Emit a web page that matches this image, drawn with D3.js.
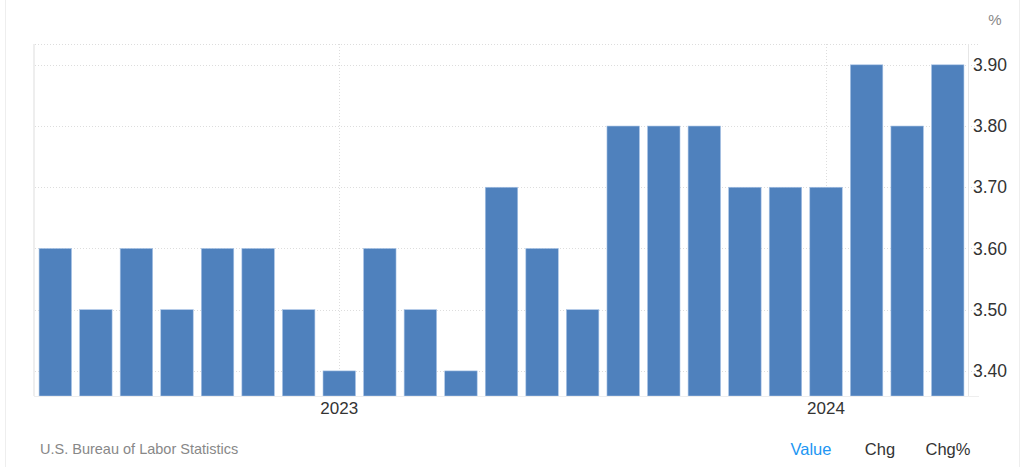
<!DOCTYPE html>
<html>
<head>
<meta charset="utf-8">
<script src="https://cdn.jsdelivr.net/npm/d3@7"></script>
<style>
  body { margin: 0; background: #fff; font-family: "Liberation Sans", Arial, sans-serif; }
</style>
</head>
<body>
<svg id="chart" width="1022" height="467"></svg>
<script>
// monthly values, Jun 2022 .. Apr 2024
var months = ["2022-06", "2022-07", "2022-08", "2022-09", "2022-10", "2022-11", "2022-12",
    "2023-01", "2023-02", "2023-03", "2023-04", "2023-05", "2023-06", "2023-07", "2023-08",
    "2023-09", "2023-10", "2023-11", "2023-12", "2024-01", "2024-02", "2024-03", "2024-04"];
var values = [3.6, 3.5, 3.6, 3.5, 3.6, 3.6, 3.5, 3.4, 3.6, 3.5, 3.4, 3.7, 3.6, 3.5, 3.8,
    3.8, 3.8, 3.7, 3.7, 3.7, 3.9, 3.8, 3.9];
var yTicks = [3.4, 3.5, 3.6, 3.7, 3.8, 3.9];
var yearTicks = ["2023-01", "2024-01"];
var yearLabels = ["2023", "2024"];
var menu = ["Value", "Chg", "Chg%"];

var svg = d3.select("#chart");
var plotLeft = 35, plotRight = 968, plotTop = 44, plotBottom = 396;

// card borders
svg.append("line").attr("x1", 5.5).attr("x2", 5.5).attr("y1", 0).attr("y2", 467)
    .attr("stroke", "#eeeeee").attr("stroke-width", 1);
svg.append("line").attr("x1", 1019.5).attr("x2", 1019.5).attr("y1", 0).attr("y2", 467)
    .attr("stroke", "#eeeeee").attr("stroke-width", 1);

var x = d3.scaleBand().domain(months).range([plotLeft, plotRight]).paddingInner(0.2).paddingOuter(0.1);
var y = d3.scaleLinear().domain([3.359, 3.934]).range([plotBottom, plotTop]);

// horizontal grid
svg.append("g").selectAll("line").data(yTicks.concat([3.934])).enter().append("line")
    .attr("x1", plotLeft).attr("x2", 979)
    .attr("y1", function (d) { return Math.round(y(d)) + 0.5; })
    .attr("y2", function (d) { return Math.round(y(d)) + 0.5; })
    .attr("stroke", "#dddddd").attr("stroke-dasharray", "1,2");

// vertical grid at year starts
svg.append("g").selectAll("line").data(yearTicks).enter().append("line")
    .attr("x1", function (d) { return Math.round(x(d) + x.bandwidth() / 2) + 0.5; })
    .attr("x2", function (d) { return Math.round(x(d) + x.bandwidth() / 2) + 0.5; })
    .attr("y1", plotTop).attr("y2", plotBottom)
    .attr("stroke", "#dddddd").attr("stroke-dasharray", "1,2");

// bars
svg.append("g").selectAll("rect").data(values).enter().append("rect")
    .attr("x", function (d, i) { return x(months[i]); })
    .attr("width", x.bandwidth())
    .attr("y", function (d) { return y(d); })
    .attr("height", function (d) { return plotBottom - y(d); })
    .attr("fill", "#4f81bd")
    .attr("stroke", "#a9c4e6").attr("stroke-width", 0.6);

// axis lines
svg.append("line").attr("x1", 34).attr("x2", 34).attr("y1", plotTop).attr("y2", plotBottom)
    .attr("stroke", "#eeeeee").attr("stroke-width", 2);
svg.append("line").attr("x1", 968.5).attr("x2", 968.5).attr("y1", plotTop).attr("y2", plotBottom)
    .attr("stroke", "#e6e6e6").attr("stroke-width", 1);
svg.append("line").attr("x1", 34).attr("x2", 979).attr("y1", plotBottom + 0.5).attr("y2", plotBottom + 0.5)
    .attr("stroke", "#eeeeee").attr("stroke-width", 1);

// y axis labels
var yAxis = d3.axisRight(y).tickValues(yTicks).tickSize(0).tickPadding(5)
    .tickFormat(d3.format(".2f"));
var gy = svg.append("g").attr("transform", "translate(968,0)").call(yAxis);
gy.select(".domain").remove();
gy.selectAll("text").attr("fill", "#333333").style("font-size", "17.5px")
    .style("font-family", "Liberation Sans, Arial, sans-serif");

svg.append("text").attr("x", 995).attr("y", 25).attr("text-anchor", "middle")
    .attr("fill", "#888888").style("font-size", "15px").text("%");

// year labels
svg.append("g").selectAll("text").data(yearTicks).enter().append("text")
    .attr("x", function (d) { return x(d) + x.bandwidth() / 2; })
    .attr("y", 414)
    .attr("text-anchor", "middle").attr("fill", "#333333").style("font-size", "17px")
    .text(function (d, i) { return yearLabels[i]; });

// footer
svg.append("text").attr("x", 40).attr("y", 454).attr("fill", "#888888")
    .style("font-size", "14.5px").text("U.S. Bureau of Labor Statistics");

var menuX = [811, 880, 948];
svg.append("g").selectAll("text").data(menu).enter().append("text")
    .attr("x", function (d, i) { return menuX[i]; })
    .attr("y", 455).attr("text-anchor", "middle")
    .attr("fill", function (d, i) { return i == 0 ? "#2196f3" : "#333333"; })
    .style("font-size", "16.5px")
    .text(function (d) { return d; });
</script>
</body>
</html>
